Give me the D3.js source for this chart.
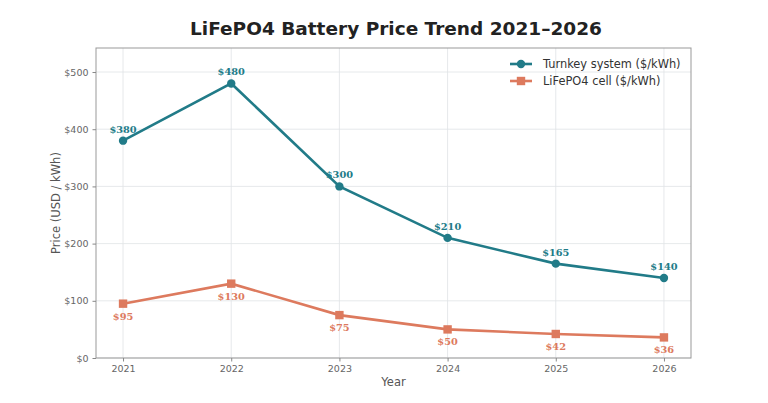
<!DOCTYPE html>
<html>
<head>
<script src="https://cdnjs.cloudflare.com/ajax/libs/d3/7.8.5/d3.min.js"></script>
<style>
  body { margin: 0; background: white; }
  text { font-family: "DejaVu Sans", sans-serif; }
</style>
</head>
<body>
<svg id="chart" width="768" height="403"></svg>
<script>
// data
var years = [2021, 2022, 2023, 2024, 2025, 2026];
var turnkey = [380, 480, 300, 210, 165, 140];
var cell = [95, 130, 75, 50, 42, 36];
var yTicks = [0, 100, 200, 300, 400, 500];

var teal = "#217b88";
var coral = "#dd7a5e";

var svg = d3.select("#chart");
var m = {left: 96, right: 691, top: 48, bottom: 358};

var xs = d3.scaleLinear().domain([2020.75, 2026.25]).range([m.left, m.right]);
var ys = d3.scaleLinear().domain([0, 542]).range([m.bottom, m.top]);

// grid
svg.append("g").selectAll("line.vg").data(years).enter().append("line")
  .attr("x1", d => xs(d)).attr("x2", d => xs(d))
  .attr("y1", m.top).attr("y2", m.bottom)
  .attr("stroke", "#dfe3e6").attr("stroke-width", 0.8);
svg.append("g").selectAll("line.hg").data(yTicks).enter().append("line")
  .attr("x1", m.left).attr("x2", m.right)
  .attr("y1", d => ys(d)).attr("y2", d => ys(d))
  .attr("stroke", "#dfe3e6").attr("stroke-width", 0.8);

// frame
svg.append("rect").attr("x", m.left).attr("y", m.top)
  .attr("width", m.right - m.left).attr("height", m.bottom - m.top)
  .attr("fill", "none").attr("stroke", "#999").attr("stroke-width", 1);

// axes
var xAxis = svg.append("g").attr("transform", "translate(0," + m.bottom + ")")
  .call(d3.axisBottom(xs).tickValues(years).tickFormat(d3.format("d")).tickSize(3.5).tickPadding(4));
var yAxis = svg.append("g").attr("transform", "translate(" + m.left + ",0)")
  .call(d3.axisLeft(ys).tickValues(yTicks).tickFormat(d => "$" + d).tickSize(3.5).tickPadding(4));
[xAxis, yAxis].forEach(function(a) {
  a.select(".domain").remove();
  a.selectAll(".tick line").attr("stroke", "#888");
  a.selectAll(".tick text").attr("fill", "#666").style("font-size", "9.5px")
    .style("font-family", "DejaVu Sans, sans-serif");
});

// axis titles
svg.append("text").attr("x", (m.left + m.right) / 2).attr("y", 386)
  .attr("text-anchor", "middle").attr("font-size", "11.5px").attr("fill", "#555").text("Year");
svg.append("text").attr("transform", "translate(60," + ((m.top + m.bottom) / 2) + ") rotate(-90)")
  .attr("text-anchor", "middle").attr("font-size", "11.5px").attr("fill", "#555").text("Price (USD / kWh)");

// title
svg.append("text").attr("x", 396).attr("y", 35).attr("text-anchor", "middle")
  .attr("font-size", "18.5px").attr("font-weight", "bold").attr("fill", "#222")
  .text("LiFePO4 Battery Price Trend 2021–2026");

var line = d3.line().x((d, i) => xs(years[i])).y(d => ys(d));

// turnkey series
svg.append("path").datum(turnkey).attr("d", line).attr("fill", "none")
  .attr("stroke", teal).attr("stroke-width", 2.6);
svg.append("g").selectAll("circle").data(turnkey).enter().append("circle")
  .attr("cx", (d, i) => xs(years[i])).attr("cy", d => ys(d)).attr("r", 4.2).attr("fill", teal);
svg.append("g").selectAll("text").data(turnkey).enter().append("text")
  .attr("x", (d, i) => xs(years[i])).attr("y", d => ys(d) - 8)
  .attr("text-anchor", "middle").attr("font-size", "9.8px").attr("font-weight", "bold")
  .attr("fill", teal).style("font-family", "DejaVu Serif, serif").text(d => "$" + d);

// cell series
svg.append("path").datum(cell).attr("d", line).attr("fill", "none")
  .attr("stroke", coral).attr("stroke-width", 2.6);
svg.append("g").selectAll("rect").data(cell).enter().append("rect")
  .attr("x", (d, i) => xs(years[i]) - 4.2).attr("y", d => ys(d) - 4.2)
  .attr("width", 8.4).attr("height", 8.4).attr("fill", coral);
svg.append("g").selectAll("text").data(cell).enter().append("text")
  .attr("x", (d, i) => xs(years[i])).attr("y", d => ys(d) + 16)
  .attr("text-anchor", "middle").attr("font-size", "9.8px").attr("font-weight", "bold")
  .attr("fill", coral).style("font-family", "DejaVu Serif, serif").text(d => "$" + d);

// legend
var legend = [{name: "Turnkey system ($/kWh)", color: teal, shape: "circle"},
              {name: "LiFePO4 cell ($/kWh)", color: coral, shape: "square"}];
var lg = svg.append("g").selectAll("g").data(legend).enter().append("g")
  .attr("transform", (d, i) => "translate(510," + (64 + i * 17) + ")");
lg.append("line").attr("x1", 0).attr("x2", 22).attr("stroke", d => d.color).attr("stroke-width", 2.6);
lg.filter(d => d.shape == "circle").append("circle").attr("cx", 11).attr("r", 4.2).attr("fill", d => d.color);
lg.filter(d => d.shape == "square").append("rect").attr("x", 6.8).attr("y", -4.2)
  .attr("width", 8.4).attr("height", 8.4).attr("fill", d => d.color);
lg.append("text").attr("x", 33).attr("y", 4).attr("font-size", "11.4px").attr("fill", "#333").text(d => d.name);
</script>
</body>
</html>
